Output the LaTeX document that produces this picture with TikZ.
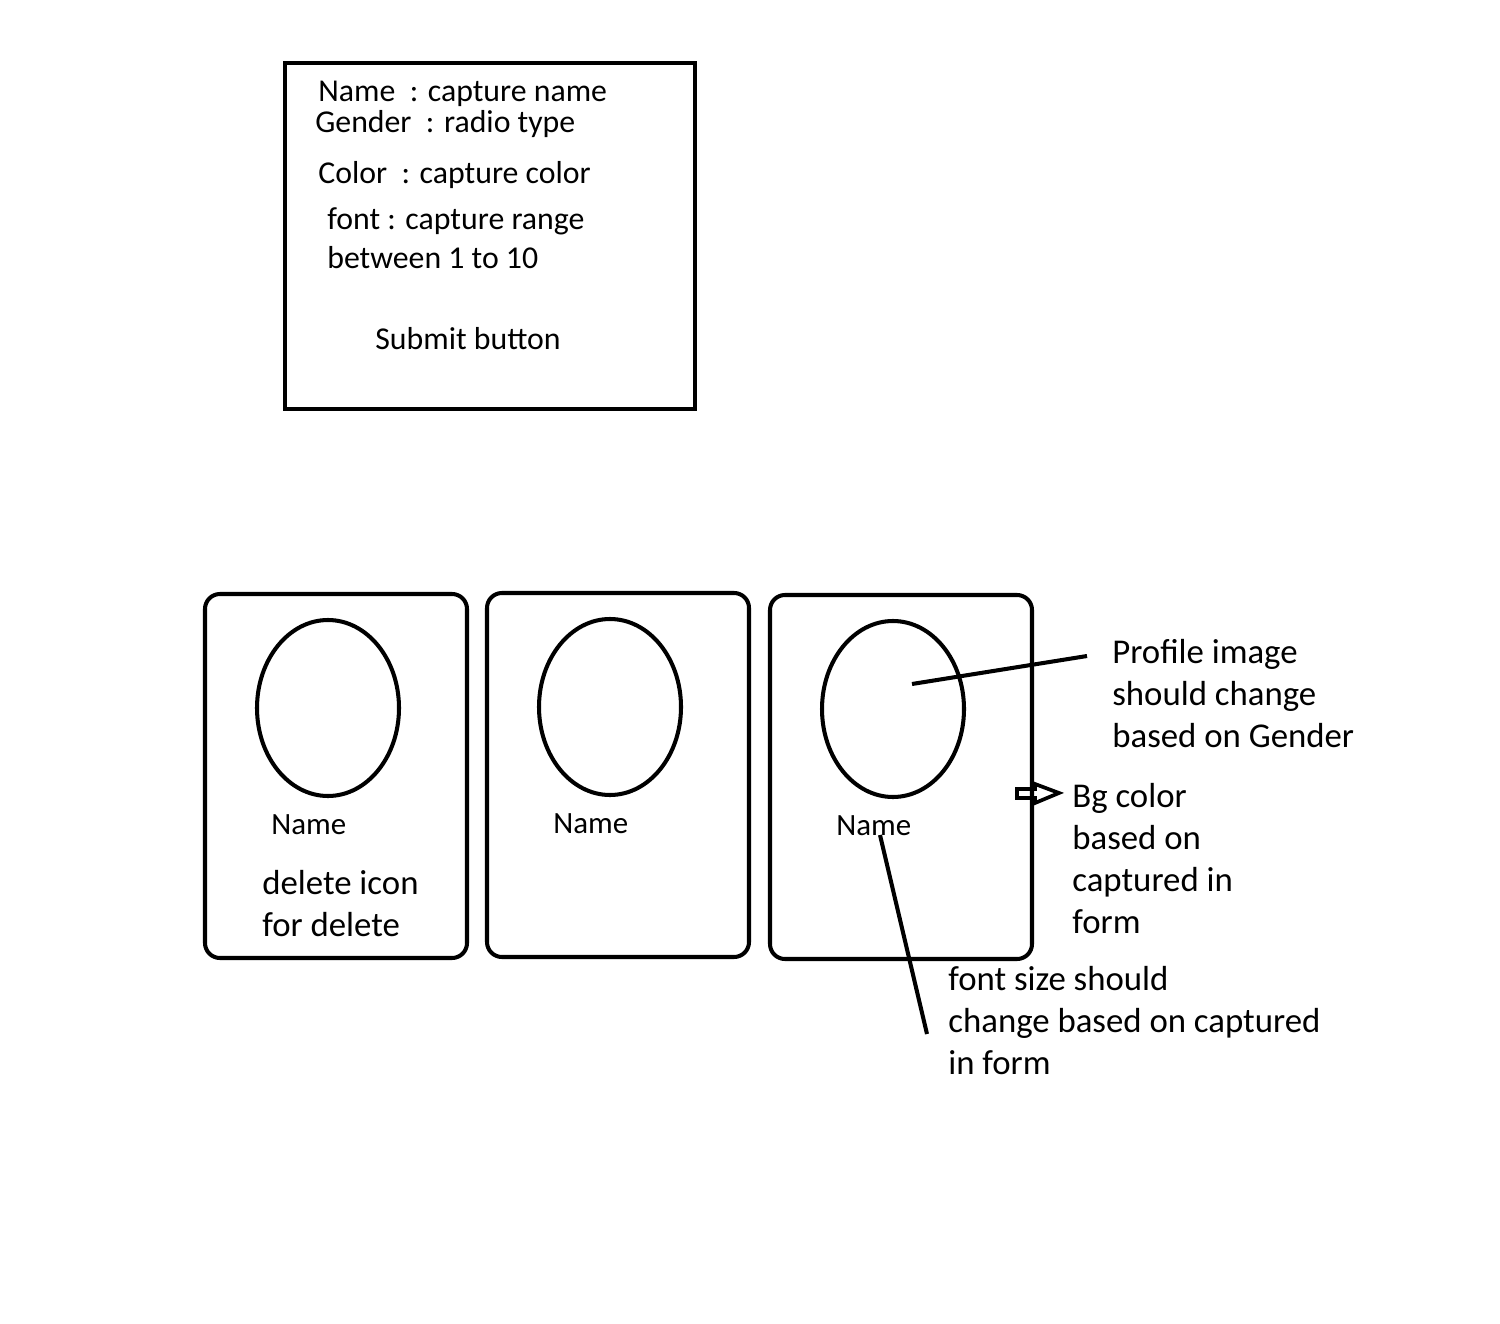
\documentclass[tikz,border=0pt]{standalone}
\usepackage{fontspec}
\setmainfont{Carlito}
\tikzstyle{penline}=[line width=2.3pt,black]
\tikzstyle{card}=[penline,rounded corners=0.3cm]
\tikzstyle{note}=[anchor=base west,inner sep=0pt,align=left]
\tikzstyle{bignote}=[note,font=\fontsize{19.8}{23.8}\selectfont] % base = last line
\newcommand{\drawcard}[3]{ % #1 name, (#2,#3) top left corner of the card
\draw[card] (#2,#3) rectangle ++(262,364);
\draw[penline] (#2+123,#3+114) ellipse [x radius=71, y radius=88];
\node[note] (#1name) at (#2+66,#3+240) {Name};
}
\begin{document}
\begin{tikzpicture}[x=0.02cm,y=-0.02cm,font=\fontsize{17.6}{23.8}\selectfont]
\useasboundingbox (0,0) rectangle (1500,1324);
% the form
\draw[penline] (285,63) rectangle (695,409);
\begin{scope}[font=\fontsize{18.1}{23.8}\selectfont]
\node[note] (fname) at (318,102) {Name~~: capture name};
\node[note] (fgender) at (315,133) {Gender~~: radio type};
\node[note] (fcolor) at (318,184) {Color~~: capture color};
\node[note] (ffont) at (327,230) {font : capture range};
\node[note] (frange) at (327,269) {between 1 to 10};
\node[note] (fsubmit) at (375,349) {Submit button};
\end{scope}
% the cards
\drawcard{c1}{205}{594}
\drawcard{c2}{487}{593}
\drawcard{c3}{770}{595}
\node[bignote] (delete) at (262,936) {delete icon\\for delete};
% notes on the right
\node[bignote] (profile) at (1112,747) {Profile image\\should change\\based on Gender};
\node[bignote] (bgcolor) at (1072,933) {Bg color\\based on\\captured in\\form};
\node[bignote] (fontsize) at (948,1074) {font size should\\change based on captured\\in form};
\coordinate (proftip) at (912,684);
\coordinate (profend) at (1087,656);
\draw[penline] (proftip) -- (profend);
\coordinate (nametip) at (880,835);
\coordinate (fontend) at (927,1034);
\draw[penline] (nametip) -- (fontend);
\draw[line width=2.1pt] (1017,789) -- (1035,789) -- (1035,784) -- (1059,793)
  -- (1035,803) -- (1035,798) -- (1017,798) -- cycle; % open arrow to Bg color
\end{tikzpicture}
\end{document}
